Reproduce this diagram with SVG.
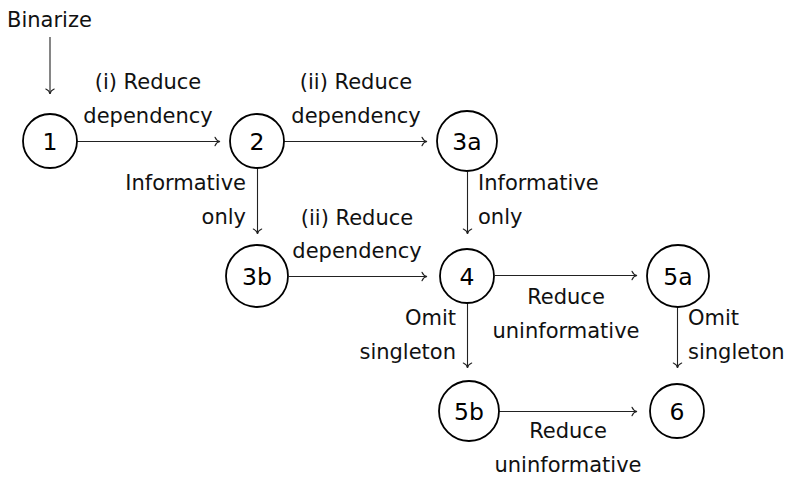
<svg xmlns="http://www.w3.org/2000/svg" width="786" height="478" viewBox="0 0 786 478">
  <style>
    .node circle { fill: #fff; stroke: #000; stroke-width: 1.8; }
    .node text { font-family: "DejaVu Sans", "Liberation Sans", sans-serif; font-size: 23.5px; fill: #000; text-anchor: middle; }
    .lbl { font-family: "DejaVu Sans", "Liberation Sans", sans-serif; font-size: 21px; fill: #111; }
    .mid { text-anchor: middle; }
    .end { text-anchor: end; }
    .edge { fill: none; stroke: #222; stroke-width: 1.1; marker-end: url(#to); }
  </style>
  <defs>
    <marker id="to" markerUnits="userSpaceOnUse" markerWidth="12" markerHeight="12" viewBox="-7 -6 8 12" refX="0" refY="0" orient="auto" overflow="visible">
      <path d="M -5,-4.2 C -4,-1.6 -1.6,-0.3 0,0 C -1.6,0.3 -4,1.6 -5,4.2" fill="none" stroke="#222" stroke-width="1.1" stroke-linecap="round"/>
    </marker>
  </defs>

  <!-- connectors -->
  <g id="edges">
    <line class="edge" x1="50" y1="37" x2="50" y2="94"/>
    <line class="edge" x1="77" y1="141.5" x2="220" y2="141.5"/>
    <line class="edge" x1="284" y1="141.5" x2="427" y2="141.5"/>
    <line class="edge" x1="257.5" y1="168" x2="257.5" y2="234"/>
    <line class="edge" x1="467.5" y1="172" x2="467.5" y2="234"/>
    <line class="edge" x1="289" y1="276.5" x2="427" y2="276.5"/>
    <line class="edge" x1="495" y1="275.5" x2="637" y2="275.5"/>
    <line class="edge" x1="467.5" y1="303" x2="467.5" y2="368"/>
    <line class="edge" x1="677.5" y1="307" x2="677.5" y2="368"/>
    <line class="edge" x1="499" y1="411.5" x2="637" y2="411.5"/>
  </g>

  <!-- connector labels -->
  <g id="labels">
    <text class="lbl" x="7" y="27">Binarize</text>
    <text class="lbl mid" x="148" y="89">(i) Reduce</text>
    <text class="lbl mid" x="148" y="123">dependency</text>
    <text class="lbl mid" x="356" y="89">(ii) Reduce</text>
    <text class="lbl mid" x="356" y="123">dependency</text>
    <text class="lbl end" x="246" y="190">Informative</text>
    <text class="lbl end" x="246" y="224">only</text>
    <text class="lbl" x="478" y="190">Informative</text>
    <text class="lbl" x="478" y="224">only</text>
    <text class="lbl mid" x="357" y="225">(ii) Reduce</text>
    <text class="lbl mid" x="357" y="258">dependency</text>
    <text class="lbl mid" x="566" y="304">Reduce</text>
    <text class="lbl mid" x="566" y="338">uninformative</text>
    <text class="lbl end" x="456" y="325">Omit</text>
    <text class="lbl end" x="456" y="359">singleton</text>
    <text class="lbl" x="688" y="325">Omit</text>
    <text class="lbl" x="688" y="359">singleton</text>
    <text class="lbl mid" x="568" y="438">Reduce</text>
    <text class="lbl mid" x="568" y="472">uninformative</text>
  </g>

  <!-- nodes -->
  <g id="n1" class="node"><circle cx="50" cy="141" r="27"/><text x="50" y="150">1</text></g>
  <g id="n2" class="node"><circle cx="257" cy="141" r="27"/><text x="257" y="150">2</text></g>
  <g id="n3a" class="node"><circle cx="467" cy="141" r="30"/><text x="467" y="150">3a</text></g>
  <g id="n3b" class="node"><circle cx="257" cy="276" r="31"/><text x="257" y="285">3b</text></g>
  <g id="n4" class="node"><circle cx="467" cy="276" r="27"/><text x="467" y="285">4</text></g>
  <g id="n5a" class="node"><circle cx="678" cy="276" r="31"/><text x="678" y="285">5a</text></g>
  <g id="n5b" class="node"><circle cx="469" cy="411" r="30"/><text x="469" y="420">5b</text></g>
  <g id="n6" class="node"><circle cx="677" cy="411" r="27"/><text x="677" y="420">6</text></g>
</svg>
